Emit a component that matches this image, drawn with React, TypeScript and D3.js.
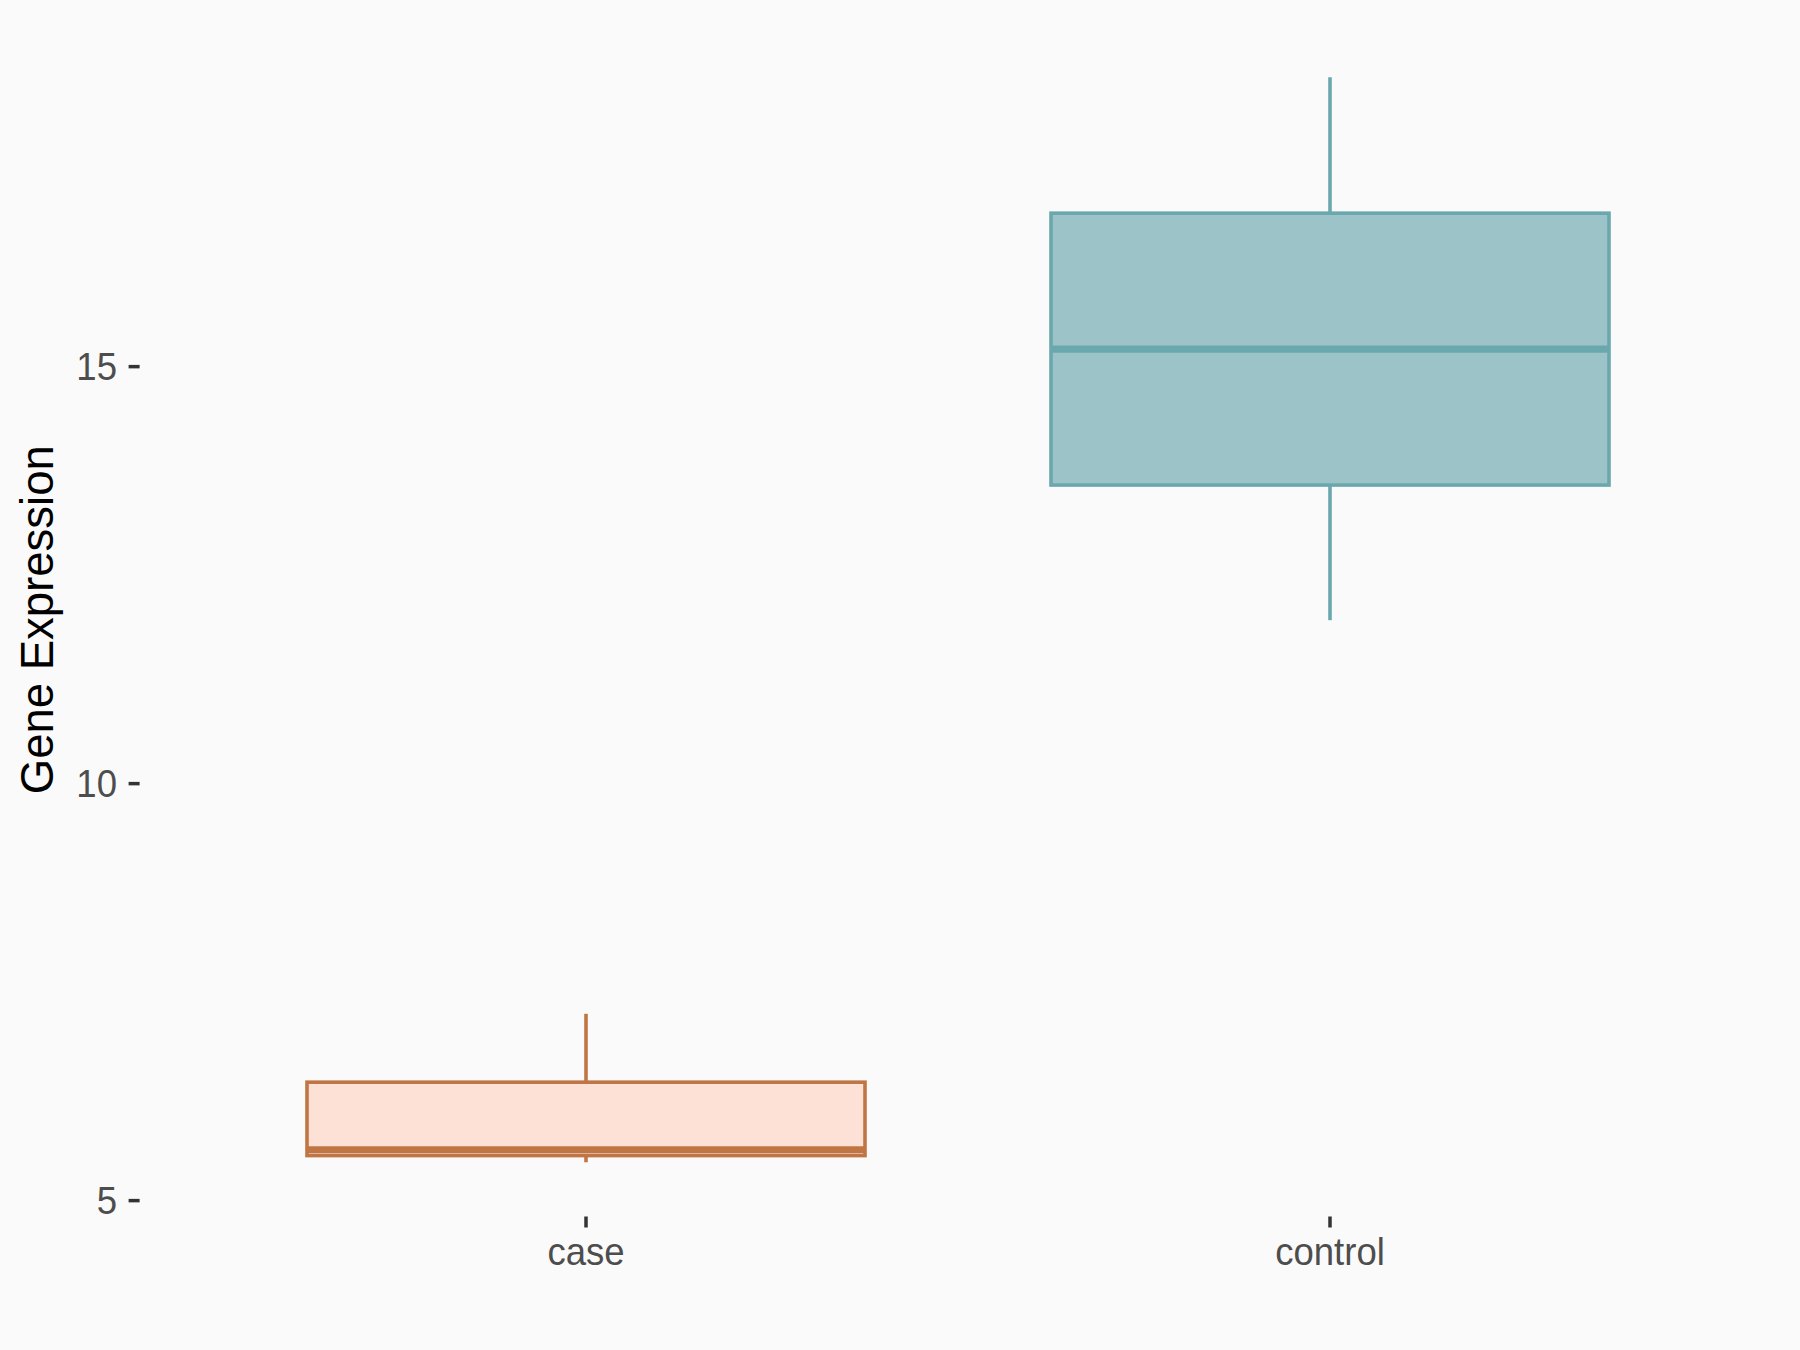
import React from "react";
import * as d3 from "d3";

// Box summaries per group
const groups = ["case", "control"];
const whiskerLow = [5.46, 11.96];
const quartile1 = [5.54, 13.58];
const medians = [5.61, 15.21];
const quartile3 = [6.42, 16.84];
const whiskerHigh = [7.24, 18.47];
const yTicks = [5, 10, 15];

const fills = ["#FDE1D6", "#9CC4C8"];
const strokes = ["#C07644", "#6BA8AE"];

const W = 1800;
const H = 1350;
const panel = { left: 139.6, right: 1776.4, top: 23, bottom: 1216.5 };
const FONT = "'Liberation Sans', Arial, Helvetica, sans-serif";
const SX = 0.95; // horizontal glyph squeeze for tick labels

export default function App() {
  const yMin = Math.min(...whiskerLow);
  const yMax = Math.max(...whiskerHigh);
  const pad = (yMax - yMin) * 0.05;
  const y = d3
    .scaleLinear()
    .domain([yMin - pad, yMax + pad])
    .range([panel.bottom, panel.top]);
  const x = d3
    .scalePoint<string>()
    .domain(groups)
    .range([panel.left, panel.right])
    .padding(0.6);
  const boxW = x.step() * 0.75;
  const lw = 3.6;

  return (
    <svg
      width={W}
      height={H}
      viewBox={`0 0 ${W} ${H}`}
      style={{ position: "absolute", left: 0, top: 0, display: "block" }}
    >
      <rect x={0} y={0} width={W} height={H} fill="#FAFAFA" />

      {/* boxes */}
      {groups.map((g, i) => {
        const cx = x(g)!;
        const x0 = cx - boxW / 2;
        return (
          <g key={g}>
            <line
              x1={cx}
              x2={cx}
              y1={y(quartile3[i])}
              y2={y(whiskerHigh[i])}
              stroke={strokes[i]}
              strokeWidth={lw}
            />
            <line
              x1={cx}
              x2={cx}
              y1={y(quartile1[i])}
              y2={y(whiskerLow[i])}
              stroke={strokes[i]}
              strokeWidth={lw}
            />
            <rect
              x={x0}
              y={y(quartile3[i])}
              width={boxW}
              height={y(quartile1[i]) - y(quartile3[i])}
              fill={fills[i]}
              stroke={strokes[i]}
              strokeWidth={lw}
            />
            <line
              x1={x0}
              x2={x0 + boxW}
              y1={y(medians[i])}
              y2={y(medians[i])}
              stroke={strokes[i]}
              strokeWidth={lw * 2}
            />
          </g>
        );
      })}

      {/* y axis */}
      {yTicks.map((t) => (
        <g key={t}>
          <line
            x1={panel.left - 11}
            x2={panel.left}
            y1={y(t)}
            y2={y(t)}
            stroke="#333333"
            strokeWidth={3.5}
          />
          <text
            transform={`translate(117, ${y(t) + 13.8}) scale(${SX},1)`}
            textAnchor="end"
            fontFamily={FONT}
            fontSize={38.5}
            fill="#4D4D4D"
          >
            {t}
          </text>
        </g>
      ))}

      {/* x axis */}
      {groups.map((g) => (
        <g key={g}>
          <line
            x1={x(g)}
            x2={x(g)}
            y1={panel.bottom}
            y2={panel.bottom + 11}
            stroke="#333333"
            strokeWidth={3.5}
          />
          <text
            transform={`translate(${x(g)}, 1265) scale(${SX},1)`}
            textAnchor="middle"
            fontFamily={FONT}
            fontSize={38.5}
            fill="#4D4D4D"
          >
            {g}
          </text>
        </g>
      ))}

      {/* y axis title */}
      <text
        transform={`translate(53, ${(panel.top + panel.bottom) / 2}) rotate(-90)`}
        textAnchor="middle"
        fontFamily={FONT}
        fontSize={45.5}
        fill="#000000"
      >
        Gene Expression
      </text>
    </svg>
  );
}
